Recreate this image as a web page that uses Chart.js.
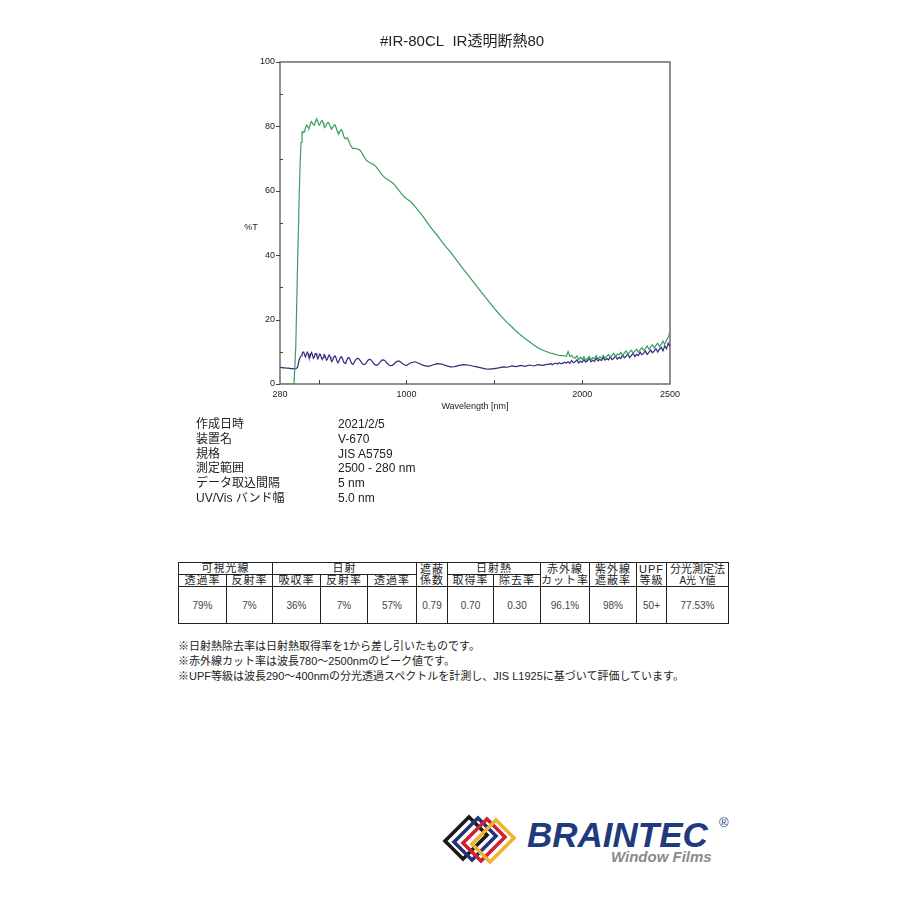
<!DOCTYPE html>
<html>
<head>
<meta charset="utf-8">
<script src="https://cdn.jsdelivr.net/npm/chart.js@4.4.1/dist/chart.umd.min.js"></script>
<style>
  html, body { margin:0; padding:0; background:#fff; }
  body { width:900px; height:900px; position:relative; overflow:hidden;
         font-family:'Liberation Sans', Arial, 'Noto Sans CJK JP', sans-serif; color:#222; }
  #chartBox { position:absolute; left:230px; top:28px; width:460px; height:392px; }
  .info { position:absolute; top:417px; font-size:12px; line-height:14.8px; white-space:nowrap; }
  #tbl { position:absolute; left:178px; top:562px; border-collapse:collapse; table-layout:fixed;
         border:1.5px solid #222; font-size:11px; }
  #tbl td { border:1px solid #222; padding:0; text-align:center; vertical-align:middle;
            line-height:11px; overflow:visible; white-space:nowrap; }
  #tbl tr.r1 td { height:9px; letter-spacing:1px; }
  #tbl tr.r2 td { height:11px; letter-spacing:1px; }
  #tbl tr.r3 td { height:36px; font-size:10px; color:#444; }
  #tbl td.two { line-height:11px; letter-spacing:1px; }
  .notes { position:absolute; left:178px; top:639px; font-size:11px; line-height:15px; white-space:nowrap; }
  #logo { position:absolute; left:440px; top:808px; width:300px; height:62px; }
</style>
</head>
<body>
<div id="chartBox"><canvas id="c" width="460" height="392"></canvas></div>

<div class="info" style="left:196px;">作成日時<br>装置名<br>規格<br>測定範囲<br>データ取込間隔<br>UV/Vis バンド幅</div>
<div class="info" style="left:338px;">2021/2/5<br>V-670<br>JIS A5759<br>2500 - 280 nm<br>5 nm<br>5.0 nm</div>

<table id="tbl">
  <colgroup>
    <col style="width:48px"><col style="width:46px"><col style="width:48px"><col style="width:47px">
    <col style="width:49px"><col style="width:31px"><col style="width:46px"><col style="width:47px">
    <col style="width:49px"><col style="width:47px"><col style="width:30px"><col style="width:62px">
  </colgroup>
  <tr class="r1"><td colspan="2">可視光線</td><td colspan="3">日射</td><td rowspan="2" class="two">遮蔽<br>係数</td><td colspan="2">日射熱</td><td rowspan="2" class="two">赤外線<br>カット率</td><td rowspan="2" class="two">紫外線<br>遮蔽率</td><td rowspan="2" class="two">UPF<br>等級</td><td rowspan="2" class="two" style="letter-spacing:0">分光測定法<br><span style="font-size:10px">A光 Y値</span></td></tr>
  <tr class="r2"><td>透過率</td><td>反射率</td><td>吸収率</td><td>反射率</td><td>透過率</td><td>取得率</td><td>除去率</td></tr>
  <tr class="r3"><td>79%</td><td>7%</td><td>36%</td><td>7%</td><td>57%</td><td>0.79</td><td>0.70</td><td>0.30</td><td>96.1%</td><td>98%</td><td>50+</td><td>77.53%</td></tr>
</table>

<div class="notes">※日射熱除去率は日射熱取得率を1から差し引いたものです。<br>※赤外線カット率は波長780～2500nmのピーク値です。<br>※UPF等級は波長290～400nmの分光透過スペクトルを計測し、JIS L1925に基づいて評価しています。</div>

<svg id="logo" viewBox="0 0 300 62" width="300" height="62">
  <g fill="none" stroke-width="3.6" stroke-linejoin="miter">
    <polygon points="5,33 29,9 47,27 23,51" stroke="#1a1a1a"/>
    <polygon points="14,34 38,10 56,28 32,52" stroke="#25347a"/>
    <polygon points="23,35 47,11 65,29 41,53" stroke="#cf2230"/>
    <polygon points="32,36 56,12 74,30 50,54" stroke="#f0b232"/>
  </g>
  <text x="87" y="39" font-family="'Liberation Sans', Arial, sans-serif" font-weight="bold" font-style="italic" font-size="35" fill="#1f3b7d">BRAINTEC</text>
  <text x="279" y="19" font-family="'Liberation Sans', Arial, sans-serif" font-size="13" fill="#1f3b7d">®</text>
  <text x="171" y="54" font-family="'Liberation Sans', Arial, sans-serif" font-weight="bold" font-style="italic" font-size="15" fill="#8a8a8a">Window Films</text>
</svg>

<script>
// ---------- DATA ----------
const chartTitle = '#IR-80CL  IR透明断熱80';
const xAxisTitle = 'Wavelength [nm]';
const yAxisTitle = '%T';

const wavelengths = [
  280,290,300,310,320,330,340,350,360,370,380,
  385,390,395,400,405,410,415,420,425,430,435,440,445,450,455,460,465,470,475,480,
  485,490,495,500,505,510,515,520,525,530,535,540,545,550,555,560,565,570,575,580,
  585,590,595,600,605,610,615,620,625,630,635,640,645,650,655,660,665,670,675,680,
  685,690,695,700,
  710,720,730,740,750,760,770,780,790,800,810,820,830,840,850,860,870,880,890,900,
  910,920,930,940,950,960,970,980,990,1000,
  1025,1050,1075,1100,1125,1150,1175,1200,1225,1250,1275,1300,1325,1350,1375,1400,
  1425,1450,1475,1500,1525,1550,1575,1600,1625,1650,1675,1700,1725,1750,1775,1800,
  1810,1820,1830,1840,1850,1860,1870,1880,1890,1900,
  1910,1920,1930,1940,1950,1960,1970,1980,1990,2000,
  2010,2020,2030,2040,2050,2060,2070,2080,2090,2100,
  2110,2120,2130,2140,2150,2160,2170,2180,2190,2200,
  2210,2220,2230,2240,2250,2260,2270,2280,2290,2300,
  2310,2320,2330,2340,2350,2360,2370,2380,2390,2400,
  2410,2420,2430,2440,2450,2460,2470,2480,2490,2500
];

// transmittance (green)
const transmittance = [
  0,0,0,0,0,0,0,0,0.3,12,37,
  48,60,69,75,78.2,78.0,78.4,78.3,79.5,80.4,80.2,79.6,79.4,80.2,81.2,81.5,81.0,80.5,80.4,81.2,
  82.0,82.2,81.6,80.6,80.4,81.0,81.7,81.8,81.2,80.3,79.8,80.0,80.6,81.1,81.2,80.8,80.0,79.4,79.3,79.7,
  80.2,80.5,80.3,79.5,78.6,77.9,77.8,78.3,78.9,79.0,78.5,77.6,76.6,76.2,76.3,76.5,76.3,75.7,75.0,74.3,
  73.8,73.4,73.2,73.2,
  73.2,73.0,72.8,72.3,71.4,70.5,69.6,69.1,68.8,68.5,68.2,67.9,67.3,66.5,65.7,65.0,64.4,64.0,63.6,63.3,
  62.9,62.5,62.0,61.3,60.6,59.9,59.2,58.6,58.0,57.5,
  56.6,55.0,53.4,51.6,49.6,47.8,46.2,44.3,42.6,41.0,39.2,37.4,35.6,33.9,32.1,30.3,
  28.6,26.9,25.2,23.5,21.9,20.4,19.0,17.7,16.4,15.2,14.1,13.1,12.1,11.2,10.5,10.0,
  9.8,9.6,9.5,9.3,9.2,9.0,8.9,8.8,8.8,8.7,
  8.6,10.1,8.5,8.9,8.2,8.0,8.7,7.6,8.3,7.7,
  8.5,7.4,7.9,8.6,7.5,8.2,7.8,8.8,7.7,8.4,
  8.0,8.9,8.1,8.6,9.2,8.3,8.9,9.5,8.4,9.3,
  9.0,9.8,8.8,9.6,10.3,9.2,9.9,10.5,9.6,10.2,
  10.8,9.9,10.6,11.3,10.4,11.0,11.8,10.8,11.5,12.2,
  11.2,12.0,12.7,11.6,12.4,13.3,12.3,13.6,14.5,16.2
];

// reflectance (blue)
const reflectance = [
  5.2,5.1,5.0,5.0,4.9,4.9,4.8,4.8,4.7,4.7,5.2,
  6.5,7.6,8.3,8.7,9.2,9.9,9.9,9.0,8.4,9.2,9.9,9.4,8.3,8.2,9.3,9.8,9.0,8.0,8.3,9.4,
  9.5,8.6,7.8,8.3,9.3,9.2,8.2,7.6,8.2,9.1,9.0,8.1,7.4,7.7,8.6,9.0,8.5,7.6,7.1,7.4,
  8.2,8.7,8.6,7.9,7.0,6.7,7.0,7.8,8.4,8.5,8.0,7.2,6.6,6.4,6.7,7.4,8.0,8.2,8.0,7.4,
  6.7,6.3,6.2,6.5,
  7.4,8.0,7.8,7.0,6.2,6.0,6.5,7.3,7.7,7.4,6.6,6.0,5.8,6.1,6.8,7.4,7.5,7.1,6.4,5.9,
  5.7,5.8,6.3,6.8,7.1,7.1,6.7,6.2,5.9,5.8,
  6.6,6.9,6.3,5.7,5.5,5.9,6.3,6.2,5.7,5.3,5.4,5.8,6.0,5.9,5.6,5.3,
  5.0,4.7,4.6,4.8,5.0,5.3,5.2,5.6,5.4,5.8,5.5,5.9,5.6,6.0,5.8,6.1,
  6.1,6.4,6.0,6.3,6.5,6.2,6.6,6.3,6.4,6.8,
  6.5,6.9,6.4,7.3,6.6,6.9,7.5,6.5,7.1,6.7,
  7.6,6.8,7.2,7.9,6.9,7.4,7.0,8.0,7.2,7.6,
  7.3,8.2,7.4,7.9,7.5,8.5,7.6,8.0,8.7,7.7,
  8.3,7.9,9.0,8.1,8.6,9.4,8.2,8.8,9.6,8.5,
  9.2,8.8,9.9,9.1,9.5,10.3,9.2,9.8,10.6,9.7,
  10.2,11.0,9.9,10.8,11.4,10.3,11.8,10.9,12.7,11.6
];

const xTickLabels = [280, 1000, 2000, 2500];
const xTickMarks = [500, 1000, 1500, 2000];
const yMajorTicks = [0, 20, 40, 60, 80, 100];
const yMinorTicks = [10, 30, 50, 70, 90];

// ---------- CHART ----------
const FONT = "'Liberation Sans', Arial, 'Noto Sans CJK JP', sans-serif";

const framePlugin = {
  id: 'frame',
  beforeDatasetsDraw(chart) {
    const { ctx, chartArea: a, scales: { x, y } } = chart;
    ctx.save();
    ctx.strokeStyle = '#555';
    ctx.lineWidth = 1.3;
    ctx.strokeRect(a.left, a.top, a.right - a.left, a.bottom - a.top);
    ctx.lineWidth = 1;
    ctx.strokeStyle = '#444';
    ctx.beginPath();
    xTickMarks.forEach(v => {
      const px = Math.round(x.getPixelForValue(v)) + 0.5;
      ctx.moveTo(px, a.bottom); ctx.lineTo(px, a.bottom - 4);
    });
    yMajorTicks.forEach(v => {
      const py = Math.round(y.getPixelForValue(v)) + 0.5;
      ctx.moveTo(a.left - 4, py); ctx.lineTo(a.left, py);
    });
    yMinorTicks.forEach(v => {
      const py = Math.round(y.getPixelForValue(v)) + 0.5;
      ctx.moveTo(a.left, py); ctx.lineTo(a.left + 3, py);
    });
    ctx.stroke();
    ctx.fillStyle = '#222';
    ctx.font = '9px ' + FONT;
    ctx.textAlign = 'center';
    ctx.textBaseline = 'middle';
    ctx.fillText(yAxisTitle, a.left - 29, (a.top + a.bottom) / 2 + 5);
    // chart title, centred over the plot frame
    ctx.font = '15px ' + FONT;
    ctx.fillText(chartTitle, (a.left + a.right) / 2 - 13, 14);
    ctx.restore();
  }
};

new Chart(document.getElementById('c'), {
  type: 'line',
  data: {
    labels: wavelengths,
    datasets: [
      {
        label: 'T',
        data: wavelengths.map((w, i) => ({ x: w, y: transmittance[i] })),
        borderColor: '#3a9e60',
        borderWidth: 1.2,
        pointRadius: 0,
        tension: 0,
        fill: false
      },
      {
        label: 'R',
        data: wavelengths.map((w, i) => ({ x: w, y: reflectance[i] })),
        borderColor: '#30297e',
        borderWidth: 1.2,
        pointRadius: 0,
        tension: 0,
        fill: false
      }
    ]
  },
  options: {
    responsive: false,
    animation: false,
    devicePixelRatio: 1,
    layout: { padding: { left: 0, right: 20, top: 34, bottom: 0 } },
    plugins: {
      legend: { display: false },
      tooltip: { enabled: false },
      title: { display: false }
    },
    scales: {
      x: {
        type: 'linear',
        min: 280,
        max: 2500,
        afterBuildTicks: s => { s.ticks = xTickLabels.map(v => ({ value: v })); },
        afterFit: s => { s.height = 36; },
        grid: { display: false, drawTicks: false },
        border: { display: false },
        ticks: {
          autoSkip: false, maxRotation: 0, padding: 5,
          color: '#222', font: { family: FONT, size: 9 },
          callback: v => String(v)
        },
        title: {
          display: true, text: xAxisTitle, color: '#222',
          font: { family: FONT, size: 9 },
          padding: { top: 0, bottom: 8 }
        }
      },
      y: {
        min: 0,
        max: 100,
        afterBuildTicks: s => { s.ticks = yMajorTicks.map(v => ({ value: v })); },
        afterFit: s => { s.width = 50; },
        grid: { display: false, drawTicks: false },
        border: { display: false },
        ticks: {
          padding: 5, color: '#222', font: { family: FONT, size: 9 },
          callback: v => String(v)
        }
      }
    }
  },
  plugins: [framePlugin]
});
</script>
</body>
</html>
